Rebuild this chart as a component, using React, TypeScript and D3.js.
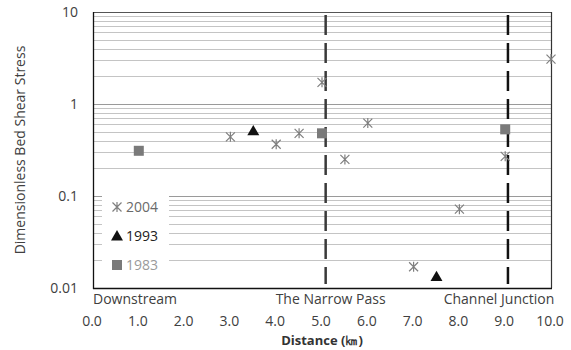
import React, { useEffect, useRef } from "react";
import * as d3 from "d3";

// distances (km) and dimensionless bed shear stress, per survey year
const dist2004 = [3.0, 4.0, 4.5, 5.0, 5.5, 6.0, 7.0, 8.0, 9.0, 10.0];
const stress2004 = [0.44, 0.365, 0.48, 1.72, 0.25, 0.62, 0.017, 0.072, 0.27, 3.08];
const dist1993 = [3.5, 7.5];
const stress1993 = [0.51, 0.0133];
const dist1983 = [1.0, 5.0, 9.0];
const stress1983 = [0.31, 0.48, 0.53];

const xTicks = [0, 1, 2, 3, 4, 5, 6, 7, 8, 9, 10];
const yLabels = [0.01, 0.1, 1, 10];
const landmarks = ["The Narrow Pass", "Channel Junction"];
const landmarkDist = [5.08, 9.06];
const legendYears = ["2004", "1993", "1983"];

const W = 571;
const H = 350;
const FONT = "'Open Sans', 'Liberation Sans', sans-serif";

const App = () => {
  const ref = useRef<SVGSVGElement>(null);

  useEffect(() => {
    const svg = d3.select(ref.current);
    svg.selectAll("*").remove();

    const left = 93, right = 551, top = 12, bottom = 288;
    const x = d3.scaleLinear().domain([0, 10]).range([left, right]);
    const y = d3.scaleLog().domain([0.01, 10]).range([bottom, top]);

    // gridlines (minor light, decades darker)
    const grid = svg.append("g");
    y.ticks().forEach((t) => {
      const major = yLabels.includes(+t.toPrecision(3));
      grid
        .append("line")
        .attr("x1", left)
        .attr("x2", right)
        .attr("y1", Math.round(y(t)) + 0.5)
        .attr("y2", Math.round(y(t)) + 0.5)
        .attr("stroke", major ? "#9a9a9a" : "#c4c4c4")
        .attr("stroke-width", 1);
    });

    // plot border
    svg
      .append("line")
      .attr("x1", left).attr("x2", right)
      .attr("y1", top + 0.5).attr("y2", top + 0.5)
      .attr("stroke", "#555").attr("stroke-width", 1.2);
    svg
      .append("line")
      .attr("x1", right + 0.5).attr("x2", right + 0.5)
      .attr("y1", top).attr("y2", bottom)
      .attr("stroke", "#333").attr("stroke-width", 1.2);

    // landmark dashed lines
    landmarkDist.forEach((d, i) => {
      svg
        .append("line")
        .attr("x1", x(d)).attr("x2", x(d))
        .attr("y1", top + 3).attr("y2", bottom - 4)
        .attr("stroke", i === 0 ? "#3a3a3a" : "#111")
        .attr("stroke-width", 2.5)
        .attr("stroke-dasharray", "20,8");
    });

    // legend box
    svg
      .append("rect")
      .attr("x", 102).attr("y", 190)
      .attr("width", 67).attr("height", 94)
      .attr("fill", "#fff");

    // axes lines
    svg
      .append("line")
      .attr("x1", left + 0.5).attr("x2", left + 0.5)
      .attr("y1", top).attr("y2", bottom + 1)
      .attr("stroke", "#111").attr("stroke-width", 1.3);
    svg
      .append("line")
      .attr("x1", left).attr("x2", right + 1)
      .attr("y1", bottom + 0.5).attr("y2", bottom + 0.5)
      .attr("stroke", "#111").attr("stroke-width", 1.3);

    const star = (g: any, cx: number, cy: number, color: string) => {
      const r = 4.5;
      g.append("path")
        .attr(
          "d",
          `M${cx - r},${cy - r}L${cx + r},${cy + r}M${cx - r},${cy + r}L${cx + r},${cy - r}M${cx},${cy - r - 0.5}L${cx},${cy + r + 0.5}`
        )
        .attr("stroke", color)
        .attr("stroke-width", 1.2)
        .attr("fill", "none");
    };
    const tri = (g: any, cx: number, cy: number, color: string) => {
      g.append("path")
        .attr("d", d3.symbol(d3.symbolTriangle, 62)())
        .attr("transform", `translate(${cx},${cy + 1})`)
        .attr("fill", color);
    };
    const sq = (g: any, cx: number, cy: number, color: string) => {
      g.append("rect")
        .attr("x", cx - 5).attr("y", cy - 5)
        .attr("width", 10).attr("height", 10)
        .attr("fill", color);
    };

    const pts = svg.append("g");
    dist1983.forEach((d, i) => sq(pts, x(d), y(stress1983[i]), "#7a7a7a"));
    dist1993.forEach((d, i) => tri(pts, x(d), y(stress1993[i]), "#111"));
    dist2004.forEach((d, i) => star(pts, x(d), y(stress2004[i]), "#7f7f7f"));

    // legend entries
    const legColors = ["#7f7f7f", "#111", "#7a7a7a"];
    const legText = ["#6a6a6a", "#222", "#9a9a9a"];
    const draws = [star, tri, sq];
    legendYears.forEach((yr, i) => {
      const ly = 207 + i * 29;
      draws[i](svg, 117, ly, legColors[i]);
      svg
        .append("text")
        .attr("x", 126).attr("y", ly + 5)
        .attr("font-family", FONT).attr("font-size", 14)
        .attr("fill", legText[i])
        .text(yr);
    });

    // y tick labels
    yLabels.forEach((v) => {
      svg
        .append("text")
        .attr("x", 78).attr("y", y(v) + 5)
        .attr("text-anchor", "end")
        .attr("font-family", FONT).attr("font-size", 14)
        .attr("fill", "#404040")
        .text(String(v));
    });

    // x tick labels
    xTicks.forEach((v) => {
      svg
        .append("text")
        .attr("x", x(v) - 1).attr("y", 326)
        .attr("text-anchor", "middle")
        .attr("font-family", FONT).attr("font-size", 14)
        .attr("fill", "#404040")
        .text(v.toFixed(1));
    });

    // location annotations
    svg
      .append("text")
      .attr("x", left).attr("y", 304)
      .attr("font-family", FONT).attr("font-size", 14)
      .attr("fill", "#404040")
      .text("Downstream");
    landmarks.forEach((name, i) => {
      svg
        .append("text")
        .attr("x", i === 0 ? x(landmarkDist[i]) + 5 : x(landmarkDist[i]) - 9)
        .attr("y", 304)
        .attr("text-anchor", "middle")
        .attr("font-family", FONT).attr("font-size", 14)
        .attr("fill", "#404040")
        .text(name);
    });

    // axis titles
    svg
      .append("text")
      .attr("x", 322).attr("y", 345)
      .attr("text-anchor", "middle")
      .attr("font-family", FONT).attr("font-size", 13)
      .attr("font-weight", "bold")
      .attr("fill", "#333")
      .text("Distance (㎞)");
    svg
      .append("text")
      .attr("transform", `translate(25,${(top + bottom) / 2}) rotate(-90)`)
      .attr("text-anchor", "middle")
      .attr("font-family", FONT).attr("font-size", 14)
      .attr("fill", "#404040")
      .text("Dimensionless Bed Shear Stress");
  }, []);

  return (
    <svg
      ref={ref}
      width={W}
      height={H}
      style={{ position: "absolute", left: 0, top: 0, background: "#fff" }}
    />
  );
};

export default App;
